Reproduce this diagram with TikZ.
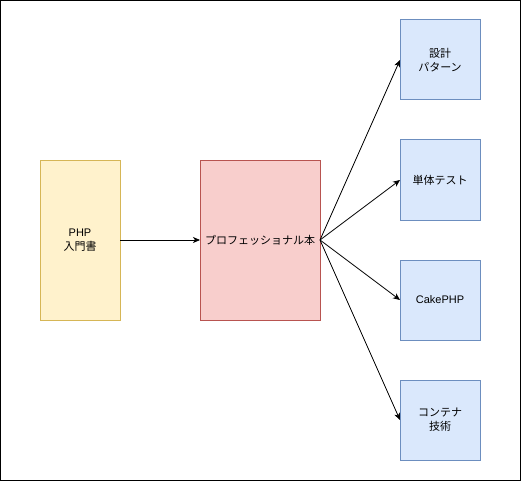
\documentclass[tikz,border=0pt]{standalone}
\usepackage{fontspec}
\setmainfont{Liberation Sans}
\newfontfamily\cjk{Noto Sans CJK JP}
\usepackage{xcolor}
\usepackage{tikz}
\usetikzlibrary{positioning}
\usetikzlibrary{arrows.meta}
\definecolor{yelfill}{HTML}{FFF2CC}
\definecolor{yeldraw}{HTML}{D6B656}
\definecolor{redfill}{HTML}{F8CECC}
\definecolor{reddraw}{HTML}{B85450}
\definecolor{bluefill}{HTML}{DAE8FC}
\definecolor{bluedraw}{HTML}{6C8EBF}
\tikzset{
    bookbox/.style = {rectangle, line width=1pt, align=center, inner sep=0pt, outer sep=0pt, font=\fontsize{11}{14}\selectfont},
    introbox/.style = {bookbox, draw=yeldraw, fill=yelfill, minimum width=80pt, minimum height=160pt},
    probox/.style = {bookbox, draw=reddraw, fill=redfill, minimum width=120pt, minimum height=160pt},
    topicbox/.style = {bookbox, draw=bluedraw, fill=bluefill, minimum width=80pt, minimum height=80pt},
    myarrow/.style = {line width=0.8pt, -{Stealth[length=7pt,width=6pt,inset=2pt]}},
}
\begin{document}
\begin{tikzpicture}[x=1pt, y=-1pt, node distance=40pt]
  \useasboundingbox (0,0) rectangle (521,481);
  \draw[line width=1pt] (0.5,0.5) rectangle (520.5,480.5);
  % books
  \node[introbox] (intro) at (80,240) {PHP\\\cjk 入門書};
  \node[probox, right=80pt of intro] (pro) {\cjk プロフェッショナル本};
  % topics
  \node[topicbox] (design) at (440,60) {\cjk 設計\\\cjk パターン};
  \node[topicbox, below=of design] (unittest) {\cjk 単体テスト};
  \node[topicbox, below=of unittest] (cake) {CakePHP};
  \node[topicbox, below=of cake] (container) {\cjk コンテナ\\\cjk 技術};
  % arrows
  \draw[myarrow] (intro) -- (pro);
  \foreach \t in {design, unittest, cake, container}
    \draw[myarrow] (pro.east) -- (\t.west);
\end{tikzpicture}
\end{document}
